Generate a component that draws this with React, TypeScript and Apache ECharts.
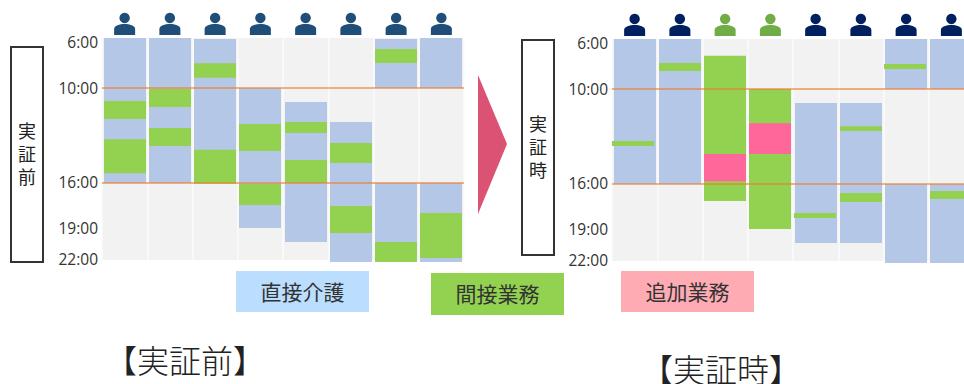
import React, { useEffect, useRef } from "react";
import * as echarts from "echarts";

// Kinds of work shown on each staff member's day
const KIND_COLORS = ["#b4c7e7", "#92d250", "#ff6699"];
const DIRECT = 0;
const INDIRECT = 1;
const ADDED = 2;

const workers = ["A", "B", "C", "D", "E", "F", "G", "H"];

// [worker index, start hour, end hour, kind]
const beforeShifts = [
  [0, 6, 16, DIRECT], [0, 10.82, 11.96, INDIRECT], [0, 13.24, 15.39, INDIRECT],
  [1, 6, 16, DIRECT], [1, 10.06, 11.2, INDIRECT], [1, 12.53, 13.66, INDIRECT],
  [2, 6.08, 16, DIRECT], [2, 8.02, 9.18, INDIRECT], [2, 13.9, 16.05, INDIRECT],
  [3, 10, 19, DIRECT], [3, 12.27, 13.98, INDIRECT], [3, 16.07, 17.47, INDIRECT],
  [4, 10.88, 20.31, DIRECT], [4, 12.15, 12.84, INDIRECT], [4, 14.55, 16, INDIRECT],
  [5, 12.15, 22.19, DIRECT], [5, 13.47, 14.74, INDIRECT], [5, 17.53, 19.47, INDIRECT],
  [6, 6.08, 10, DIRECT], [6, 16, 22.19, DIRECT], [6, 6.88, 8, INDIRECT], [6, 20.31, 22.19, INDIRECT],
  [7, 6, 10, DIRECT], [7, 16, 22.19, DIRECT], [7, 18, 21.81, INDIRECT],
];

const duringShifts = [
  [0, 6, 16, DIRECT], [0, 13.28, 13.6, INDIRECT],
  [1, 6, 16, DIRECT], [1, 7.92, 8.56, INDIRECT],
  [2, 7.34, 17.13, INDIRECT], [2, 14.11, 15.82, ADDED],
  [3, 10, 19, INDIRECT], [3, 12.16, 14.11, ADDED],
  [4, 10.89, 20.31, DIRECT], [4, 17.93, 18.27, INDIRECT],
  [5, 10.89, 20.31, DIRECT], [5, 12.35, 12.66, INDIRECT], [5, 16.6, 17.2, INDIRECT],
  [6, 6, 10, DIRECT], [6, 16, 22.19, DIRECT], [6, 8, 8.4, INDIRECT],
  [7, 6, 10, DIRECT], [7, 16, 22.19, DIRECT], [7, 16.47, 17, INDIRECT],
];

// The time scale is not uniform: clock hours and their place on the axis
const hourStops = [6, 10, 16, 19, 22];
const unitStops = [0, 50, 145, 190, 222];
const tickLabels = ["6:00", "10:00", "16:00", "19:00", "22:00"];
const labelUnitsBefore = [4, 50, 144, 190, 221];
const labelUnitsDuring = [3.5, 50, 144, 189.5, 220.5];
const referenceHours = [10, 16];

// Icon colours per worker; during the trial two people change role
const beforeIconColors = Array(8).fill("#1f4e79");
const duringIconColors = ["#002060", "#002060", "#70ad47", "#70ad47", "#002060", "#002060", "#002060", "#002060"];

// Thin indirect-work marks that sit slightly left of their column
const duringIndirectShift = [-2, 0, 0, 0, -1, 0, -1, 0];
const beforeIndirectShift = [0, 0, 0, 0, 0, 0, 0, 0];

const legendItems = [
  { text: "直接介護", color: "#bbdefe", x: 236, y: 271, h: 41 },
  { text: "間接業務", color: "#92d250", x: 431, y: 273, h: 42 },
  { text: "追加業務", color: "#ffabb3", x: 621, y: 271, h: 41 },
];

function hourToUnit(h: number) {
  let i = 0;
  while (i < hourStops.length - 2 && h > hourStops[i + 1]) i++;
  const t = (h - hourStops[i]) / (hourStops[i + 1] - hourStops[i]);
  return unitStops[i] + t * (unitStops[i + 1] - unitStops[i]);
}

const CJK = '"Noto Sans CJK JP", sans-serif';

function shiftSeries(rows: number[][], gridIndex: number, shifts: number[]) {
  return {
    type: "custom",
    xAxisIndex: gridIndex,
    yAxisIndex: gridIndex,
    silent: true,
    encode: { x: 0, y: [1, 2] },
    data: rows.map(([w, s, e, k]) => [w, hourToUnit(s), hourToUnit(e), k]),
    renderItem(_: any, api: any) {
      const [cx, y0] = api.coord([api.value(0), api.value(1)]);
      const [, y1] = api.coord([api.value(0), api.value(2)]);
      const kind = api.value(3);
      const dx = kind === INDIRECT ? shifts[api.value(0)] : 0;
      return {
        type: "rect",
        shape: { x: Math.round(cx - 21 + dx), y: y0, width: 42, height: y1 - y0 },
        style: { fill: KIND_COLORS[kind] },
      };
    },
    markLine: {
      silent: true,
      symbol: "none",
      label: { show: false },
      lineStyle: { color: "#ed7d31", opacity: 0.6, width: 2, type: "solid" },
      data: referenceHours.map((h) => ({ yAxis: hourToUnit(h) })),
    },
  };
}

function iconSeries(colors: string[], gridIndex: number) {
  return {
    type: "custom",
    xAxisIndex: gridIndex,
    yAxisIndex: gridIndex,
    silent: true,
    encode: { x: 0, y: 1 },
    data: colors.map((_, i) => [i, -20]),
    renderItem(_: any, api: any) {
      const i = api.value(0);
      const [cx, cy] = api.coord([i, api.value(1)]);
      const fill = colors[i];
      const top = cy + 6;
      const bottom = cy + 17;
      const d =
        `M${cx - 10.5} ${bottom} L${cx - 10.5} ${top + 5} ` +
        `C${cx - 10.5} ${top + 1.5} ${cx - 5} ${top} ${cx} ${top} ` +
        `C${cx + 5} ${top} ${cx + 10.5} ${top + 1.5} ${cx + 10.5} ${top + 5} ` +
        `L${cx + 10.5} ${bottom} Z`;
      return {
        type: "group",
        children: [
          { type: "circle", shape: { cx, cy, r: 5.2 }, style: { fill } },
          { type: "path", shape: { pathData: d }, style: { fill } },
        ],
      };
    },
  };
}

function labelledBox(text: string, x: number, y: number, w: number, h: number) {
  return [
    { type: "rect", shape: { x, y, width: w, height: h }, style: { fill: "#fff", stroke: "#333", lineWidth: 2 } },
    {
      type: "text",
      x: x + w / 2,
      y: y + h / 2 - 2,
      style: {
        text: text.split("").join("\n"),
        fill: "#222",
        font: `18px ${CJK}`,
        lineHeight: 23,
        align: "center",
        verticalAlign: "middle",
      },
    },
  ];
}

function axisPair(gridIndex: number, labelUnits: number[]) {
  return {
    x: {
      type: "category",
      gridIndex,
      data: workers,
      boundaryGap: true,
      axisLine: { show: false },
      axisTick: { show: false },
      axisLabel: { show: false },
      splitLine: { show: true, interval: 0, lineStyle: { color: "#fbfbfb", width: 1.5 } },
    },
    y: {
      type: "value",
      gridIndex,
      inverse: true,
      min: 0,
      max: unitStops[unitStops.length - 1],
      axisLine: { show: false },
      axisTick: { show: false },
      splitLine: { show: false },
      axisLabel: {
        show: true,
        customValues: labelUnits,
        margin: 4,
        color: "#333",
        fontSize: 15.5,
        fontFamily: '"Open Sans", sans-serif',
        formatter: (v: number) => tickLabels[labelUnits.indexOf(v)] ?? "",
      },
    },
  };
}

export default function App() {
  const ref = useRef<HTMLDivElement>(null);

  useEffect(() => {
    if (!ref.current) return;
    const chart = echarts.init(ref.current, undefined, { renderer: "svg" });
    const before = axisPair(0, labelUnitsBefore);
    const during = axisPair(1, labelUnitsDuring);
    // The second panel runs past the page's right edge, so its layout must not be fitted inside
    const panel = {
      show: true,
      backgroundColor: "#f2f2f2",
      borderWidth: 0,
      width: 362,
      height: 222,
      outerBoundsMode: "none",
    };

    chart.setOption({
      animation: false,
      backgroundColor: "#fff",
      grid: [
        { ...panel, left: 102, top: 38 },
        { ...panel, left: 612, top: 39 },
      ],
      xAxis: [before.x, during.x],
      yAxis: [before.y, during.y],
      series: [
        shiftSeries(beforeShifts, 0, beforeIndirectShift),
        shiftSeries(duringShifts, 1, duringIndirectShift),
        iconSeries(beforeIconColors, 0),
        iconSeries(duringIconColors, 1),
      ],
      graphic: [
        ...labelledBox("実証前", 11, 47, 32, 215),
        ...labelledBox("実証時", 522, 40, 32, 215),
        {
          type: "polygon",
          shape: { points: [[478, 75], [507, 144], [478, 214]] },
          style: { fill: "#dc5274" },
        },
        ...legendItems.flatMap((item) => [
          { type: "rect", shape: { x: item.x, y: item.y, width: 133, height: item.h }, style: { fill: item.color } },
          {
            type: "text",
            x: item.x + 66.5,
            y: item.y + item.h / 2 - 1,
            style: { text: item.text, fill: "#333", font: `21px ${CJK}`, align: "center", verticalAlign: "middle" },
          },
        ]),
        {
          type: "text",
          x: 185,
          y: 359,
          style: { text: "【実証前】", fill: "#222", font: `300 32px ${CJK}`, align: "center", verticalAlign: "middle" },
        },
        {
          type: "text",
          x: 721,
          y: 368,
          style: { text: "【実証時】", fill: "#222", font: `300 32px ${CJK}`, align: "center", verticalAlign: "middle" },
        },
      ],
    });
    return () => chart.dispose();
  }, []);

  return <div ref={ref} style={{ position: "fixed", left: 0, top: 0, width: 964, height: 384 }} />;
}
